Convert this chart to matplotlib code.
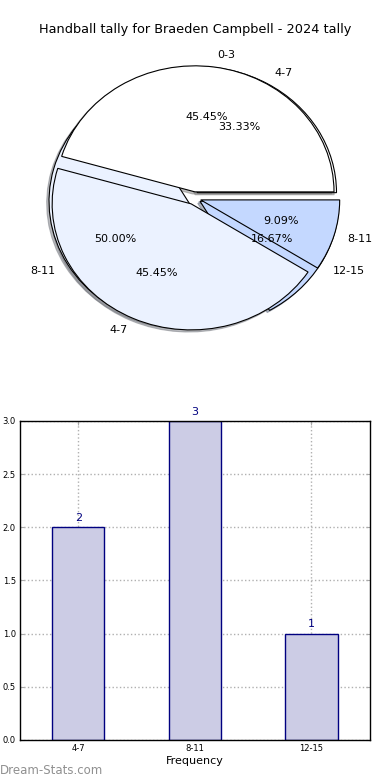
import matplotlib
matplotlib.use('Agg')
import matplotlib.pyplot as plt

# pie data (two overlapping tallies)
pie1_labels = ['0-3', '4-7', '8-11']
pie1_values = [5, 5, 1]
pie2_labels = ['4-7', '8-11', '12-15']
pie2_values = [2, 3, 1]
pie_colours = ['#FFFFFF', '#EBF2FF', '#C4D8FF']

# bar data
bar_labels = ['4-7', '8-11', '12-15']
bar_values = [2, 3, 1]

title = 'Handball tally for Braeden Campbell - 2024 tally'

fig = plt.figure(figsize=(3.9, 7.8), dpi=100)

ax1 = fig.add_axes([0.052, 0.544, 0.891, 0.404])
wp = {'edgecolor': 'black', 'linewidth': 0.8}
shad = {'ox': -0.012, 'oy': -0.012, 'shade': 0.5}
ax1.pie(pie2_values, labels=pie2_labels, colors=pie_colours, autopct='%.2f%%',
        explode=[0.05, 0.05, 0.05], shadow=shad, wedgeprops=wp,
        textprops={'fontsize': 8})
ax1.pie(pie1_values, labels=pie1_labels, colors=pie_colours, autopct='%.2f%%',
        explode=[0.05, 0.05, 0.05], shadow=shad, wedgeprops=wp,
        textprops={'fontsize': 8})
ax1.set_aspect('auto')
ax1.set_xlim(-1.25, 1.25)
ax1.set_ylim(-1.25, 1.25)
ax1.axis('off')

fig.text(0.5, 1 - 30 / 780, title, ha='center', va='center', fontsize=9.3)

ax2 = fig.add_axes([0.051, 0.0513, 0.897, 0.409])
xs = range(len(bar_values))
ax2.bar(xs, bar_values, width=0.45, color='#CCCCE5', edgecolor='#000080', linewidth=1, zorder=2)
for x, v in zip(xs, bar_values):
    ax2.text(x, v + 0.04, str(v), ha='center', va='bottom', color='#000080', fontsize=8)
ax2.set_xlim(-0.5, 2.5)
ax2.set_ylim(0, 3)
ax2.set_xticks(list(xs))
ax2.set_xticklabels(bar_labels)
ax2.set_yticks([0, 0.5, 1.0, 1.5, 2.0, 2.5, 3.0])
ax2.set_yticklabels(['%.1f' % t for t in [0, 0.5, 1.0, 1.5, 2.0, 2.5, 3.0]])
ax2.tick_params(labelsize=6, direction='in', length=3, color='#aaaaaa', top=True, right=True, pad=3)
ax2.grid(True, linestyle=':', color='#b0b0b0', linewidth=1, zorder=0)
ax2.set_axisbelow(True)
for s in ax2.spines.values():
    s.set_linewidth(1)
ax2.set_xlabel('Frequency', fontsize=8, labelpad=2)

fig.text(0.0, 1 - 770 / 780, 'Dream-Stats.com', ha='left', va='center', fontsize=8.5, color='#909090')

fig.savefig('out.png', dpi=100)
